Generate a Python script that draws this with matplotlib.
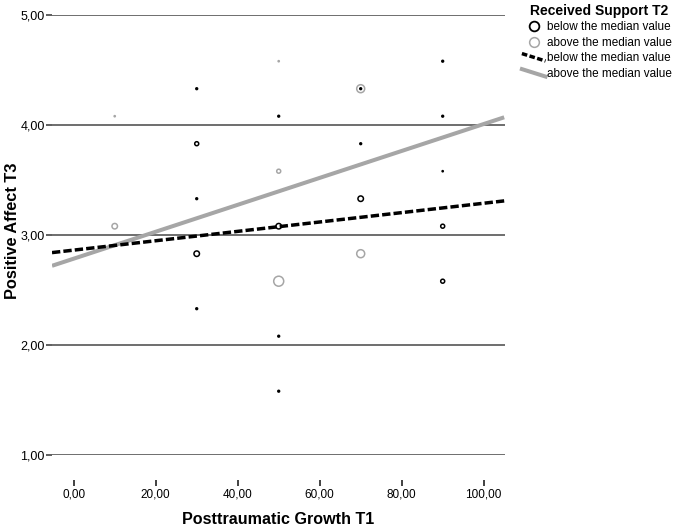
import matplotlib
matplotlib.use("Agg")
import matplotlib.pyplot as plt
from matplotlib.lines import Line2D
from matplotlib.legend_handler import HandlerLine2D
from matplotlib.ticker import FuncFormatter

plt.rcParams["font.family"] = ["Liberation Sans", "DejaVu Sans"]

# ── data ─────────────────────────────────────────────────────────────────────
# scatter: posttraumatic growth T1 (x), positive affect T3 (y), n cases at that spot
below_x = [30, 30, 30, 30, 30, 50, 50, 50, 50, 70, 70, 70, 90, 90, 90, 90, 90]
below_y = [4.33, 3.83, 3.33, 2.83, 2.33, 4.08, 3.08, 2.08, 1.58,
           4.33, 3.83, 3.33, 4.58, 4.08, 3.58, 3.08, 2.58]
below_n = [2, 3, 2, 4, 2, 2, 4, 2, 2, 2, 2, 4, 2, 2, 1, 3, 3]

above_x = [10, 10, 50, 50, 50, 70, 70]
above_y = [4.08, 3.08, 4.58, 3.58, 2.58, 4.33, 2.83]
above_n = [1, 4, 1, 3, 6, 5, 5]

# fit lines (ends at the edges of the x range)
fit_x = [-5.3, 105.0]
fit_below = [2.84, 3.31]
fit_above = [2.72, 4.07]

y_ticks = [1, 2, 3, 4, 5]
x_ticks = [0, 20, 40, 60, 80, 100]
legend_labels = ["below the median value", "above the median value",
                 "below the median value", "above the median value"]

BLACK = "#000000"
GREY = "#a6a6a6"
DOT_PX = {1: 1.2, 2: 1.8, 3: 4.0, 4: 5.5, 5: 8.0, 6: 10.0}


def marker_area(counts):
    return [(DOT_PX[c] * 0.72) ** 2 for c in counts]


class SlantedLine(HandlerLine2D):
    # SPSS draws the line keys at a slight slope
    def create_artists(self, legend, orig_handle, xdescent, ydescent,
                       width, height, fontsize, trans):
        x0, x1 = -xdescent, width - xdescent
        line = Line2D([x0, x1], [height * 0.95 - ydescent, height * 0.05 - ydescent])
        self.update_prop(line, orig_handle, legend)
        line.set_transform(trans)
        return [line]


fig = plt.figure(figsize=(6.74, 5.27), dpi=100)
ax = fig.add_axes([52 / 674, 1 - 455 / 527, 453 / 674, 440 / 527])

ax.set_xlim(-5.3, 105.2)
ax.set_ylim(1, 5)

for s in ["top", "right", "left"]:
    ax.spines[s].set_visible(False)
ax.spines["bottom"].set_position(("outward", 18))
ax.spines["bottom"].set_visible(False)

ax.set_yticks(y_ticks)
ax.set_xticks(x_ticks)
fmt = FuncFormatter(lambda v, _: f"{v:.2f}".replace(".", ","))
ax.yaxis.set_major_formatter(fmt)
ax.xaxis.set_major_formatter(fmt)
ax.tick_params(axis="y", direction="out", length=4.3, width=1.1, pad=0.8,
               labelsize=9, color="#333333")
ax.tick_params(axis="x", direction="out", length=4.3, width=1.3, pad=1.5,
               labelsize=8.5, color="#333333")

for yv in y_ticks:
    ax.axhline(yv, color="#555555", lw=1.2, zorder=1)

ax.scatter(above_x, above_y, s=marker_area(above_n), facecolors="none",
           edgecolors=GREY, linewidths=1.1, zorder=3)
ax.scatter(below_x, below_y, s=marker_area(below_n), facecolors="none",
           edgecolors=BLACK, linewidths=1.1, zorder=3)

ax.plot(fit_x, fit_above, color=GREY, lw=2.9, solid_capstyle="butt", zorder=4)
ax.plot(fit_x, fit_below, color=BLACK, lw=2.5, dashes=(2.4, 0.9),
        dash_capstyle="butt", zorder=5)

ax.set_xlabel("Posttraumatic Growth T1", fontsize=11.6, fontweight="bold")
ax.set_ylabel("Positive Affect T3", fontsize=11.8, fontweight="bold")
ax.xaxis.set_label_coords(0.5, -0.129)
ax.yaxis.set_label_coords(-0.07, 0.51)

key_dashed = Line2D([], [], color=BLACK, lw=2.5, dashes=(1.6, 0.7))
key_solid = Line2D([], [], color=GREY, lw=2.9)
handles = [
    Line2D([], [], ls="", marker="o", ms=7, mfc="none", mec=BLACK, mew=1.3),
    Line2D([], [], ls="", marker="o", ms=7, mfc="none", mec=GREY, mew=1.1),
    key_dashed,
    key_solid,
]
leg = ax.legend(handles, legend_labels, title="Received Support T2",
                loc="upper left", bbox_to_anchor=(516 / 674, 1.004),
                bbox_transform=fig.transFigure, frameon=False, fontsize=8.5,
                title_fontproperties={"size": 10, "weight": "bold"},
                alignment="left", borderpad=0.5, handlelength=2.0,
                handletextpad=0.15, labelspacing=0.3, borderaxespad=0,
                handler_map={key_dashed: SlantedLine(), key_solid: SlantedLine()})
leg.get_title().set_position((8, 0))

fig.savefig("out.png", dpi=100)
